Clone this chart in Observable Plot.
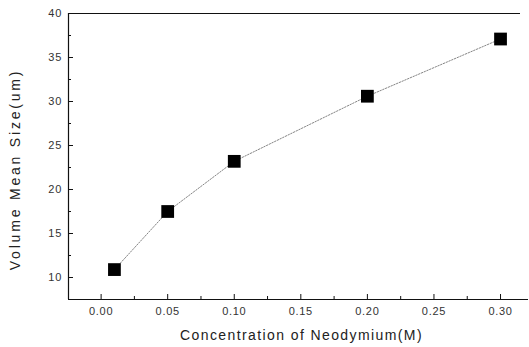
<!DOCTYPE html>
<html>
<head>
<meta charset="utf-8">
<script src="https://cdn.jsdelivr.net/npm/d3@7"></script>
<script src="https://cdn.jsdelivr.net/npm/@observablehq/plot@0.6"></script>
<style>
  html, body { margin: 0; padding: 0; background: #fff; }
  svg { display: block; }
</style>
</head>
<body>
<div id="chart"></div>
<script>
// Data
const concentration = [0.01, 0.05, 0.10, 0.20, 0.30];
const meanSize = [10.9, 17.5, 23.2, 30.6, 37.1];
const xMajorTicks = [0.00, 0.05, 0.10, 0.15, 0.20, 0.25, 0.30];
const xMinorTicks = [0.025, 0.075, 0.125, 0.175, 0.225, 0.275];
const yMajorTicks = [10, 15, 20, 25, 30, 35, 40];
const yMinorTicks = [12.5, 17.5, 22.5, 27.5, 32.5, 37.5];
const xDomain = [-0.0245, 0.3150];
const yDomain = [7.5, 40];
const xTitle = "Concentration of Neodymium(M)";
const yTitle = "Volume Mean Size(um)";

const data = concentration.map((c, i) => ({c, v: meanSize[i]}));

const W = 529, H = 347, mL = 68, mR = 9, mT = 13, mB = 48;
const fw = W - mL - mR, fh = H - mT - mB;

const chart = Plot.plot({
  width: W,
  height: H,
  marginLeft: mL,
  marginRight: mR,
  marginTop: mT,
  marginBottom: mB,
  style: {fontFamily: "'Liberation Sans', Arial, sans-serif", background: "#fff"},
  x: {domain: xDomain},
  y: {domain: yDomain},
  marks: [
    // frame lines
    Plot.ruleX([xDomain[0]], {stroke: "#111", strokeWidth: 1.2}),
    Plot.ruleY([yDomain[0]], {stroke: "#111", strokeWidth: 1.2, insetRight: -8}),
    Plot.ruleY([yDomain[1]], {stroke: "#111", strokeWidth: 1.2}),
    // inward ticks
    Plot.ruleX(xMajorTicks, {x: d => d, insetTop: fh - 5, stroke: "#111"}),
    Plot.ruleX(xMinorTicks, {x: d => d, insetTop: fh - 3, stroke: "#111"}),
    Plot.ruleY(yMajorTicks, {y: d => d, insetRight: fw - 5, stroke: "#111"}),
    Plot.ruleY(yMinorTicks, {y: d => d, insetRight: fw - 3, stroke: "#111"}),
    // tick labels
    Plot.axisX(xMajorTicks, {tickSize: 0, tickPadding: 8, tickFormat: d3.format(".2f"), fontSize: 11, fill: "#333", label: null}),
    Plot.axisY(yMajorTicks, {tickSize: 0, tickPadding: 6.5, fontSize: 11, fill: "#333", label: null}),
    // axis titles
    Plot.text([xTitle], {frameAnchor: "bottom", dx: 7, dy: 36, lineAnchor: "middle", textAnchor: "middle", fontSize: 14, fill: "#222"}),
    Plot.text([yTitle], {frameAnchor: "left", dx: -53, dy: 13, rotate: -90, textAnchor: "middle", lineAnchor: "middle", fontSize: 14, fill: "#222"}),
    // data
    Plot.line(data, {x: "c", y: "v", stroke: "#777", strokeWidth: 0.9, strokeDasharray: "1.5,1.5"}),
    Plot.dot(data, {x: "c", y: "v", symbol: "square", r: 7.2, fill: "#000", stroke: "none"})
  ]
});
// letter spacing to match the wide lettering of the original
d3.select(chart).selectAll("text").each(function() {
  const t = this.textContent;
  if (t === xTitle) this.setAttribute("letter-spacing", "1.4");
  else if (t === yTitle) this.setAttribute("letter-spacing", "2.8");
  else this.setAttribute("letter-spacing", "0.7");
});
document.getElementById("chart").appendChild(chart);
</script>
</body>
</html>
